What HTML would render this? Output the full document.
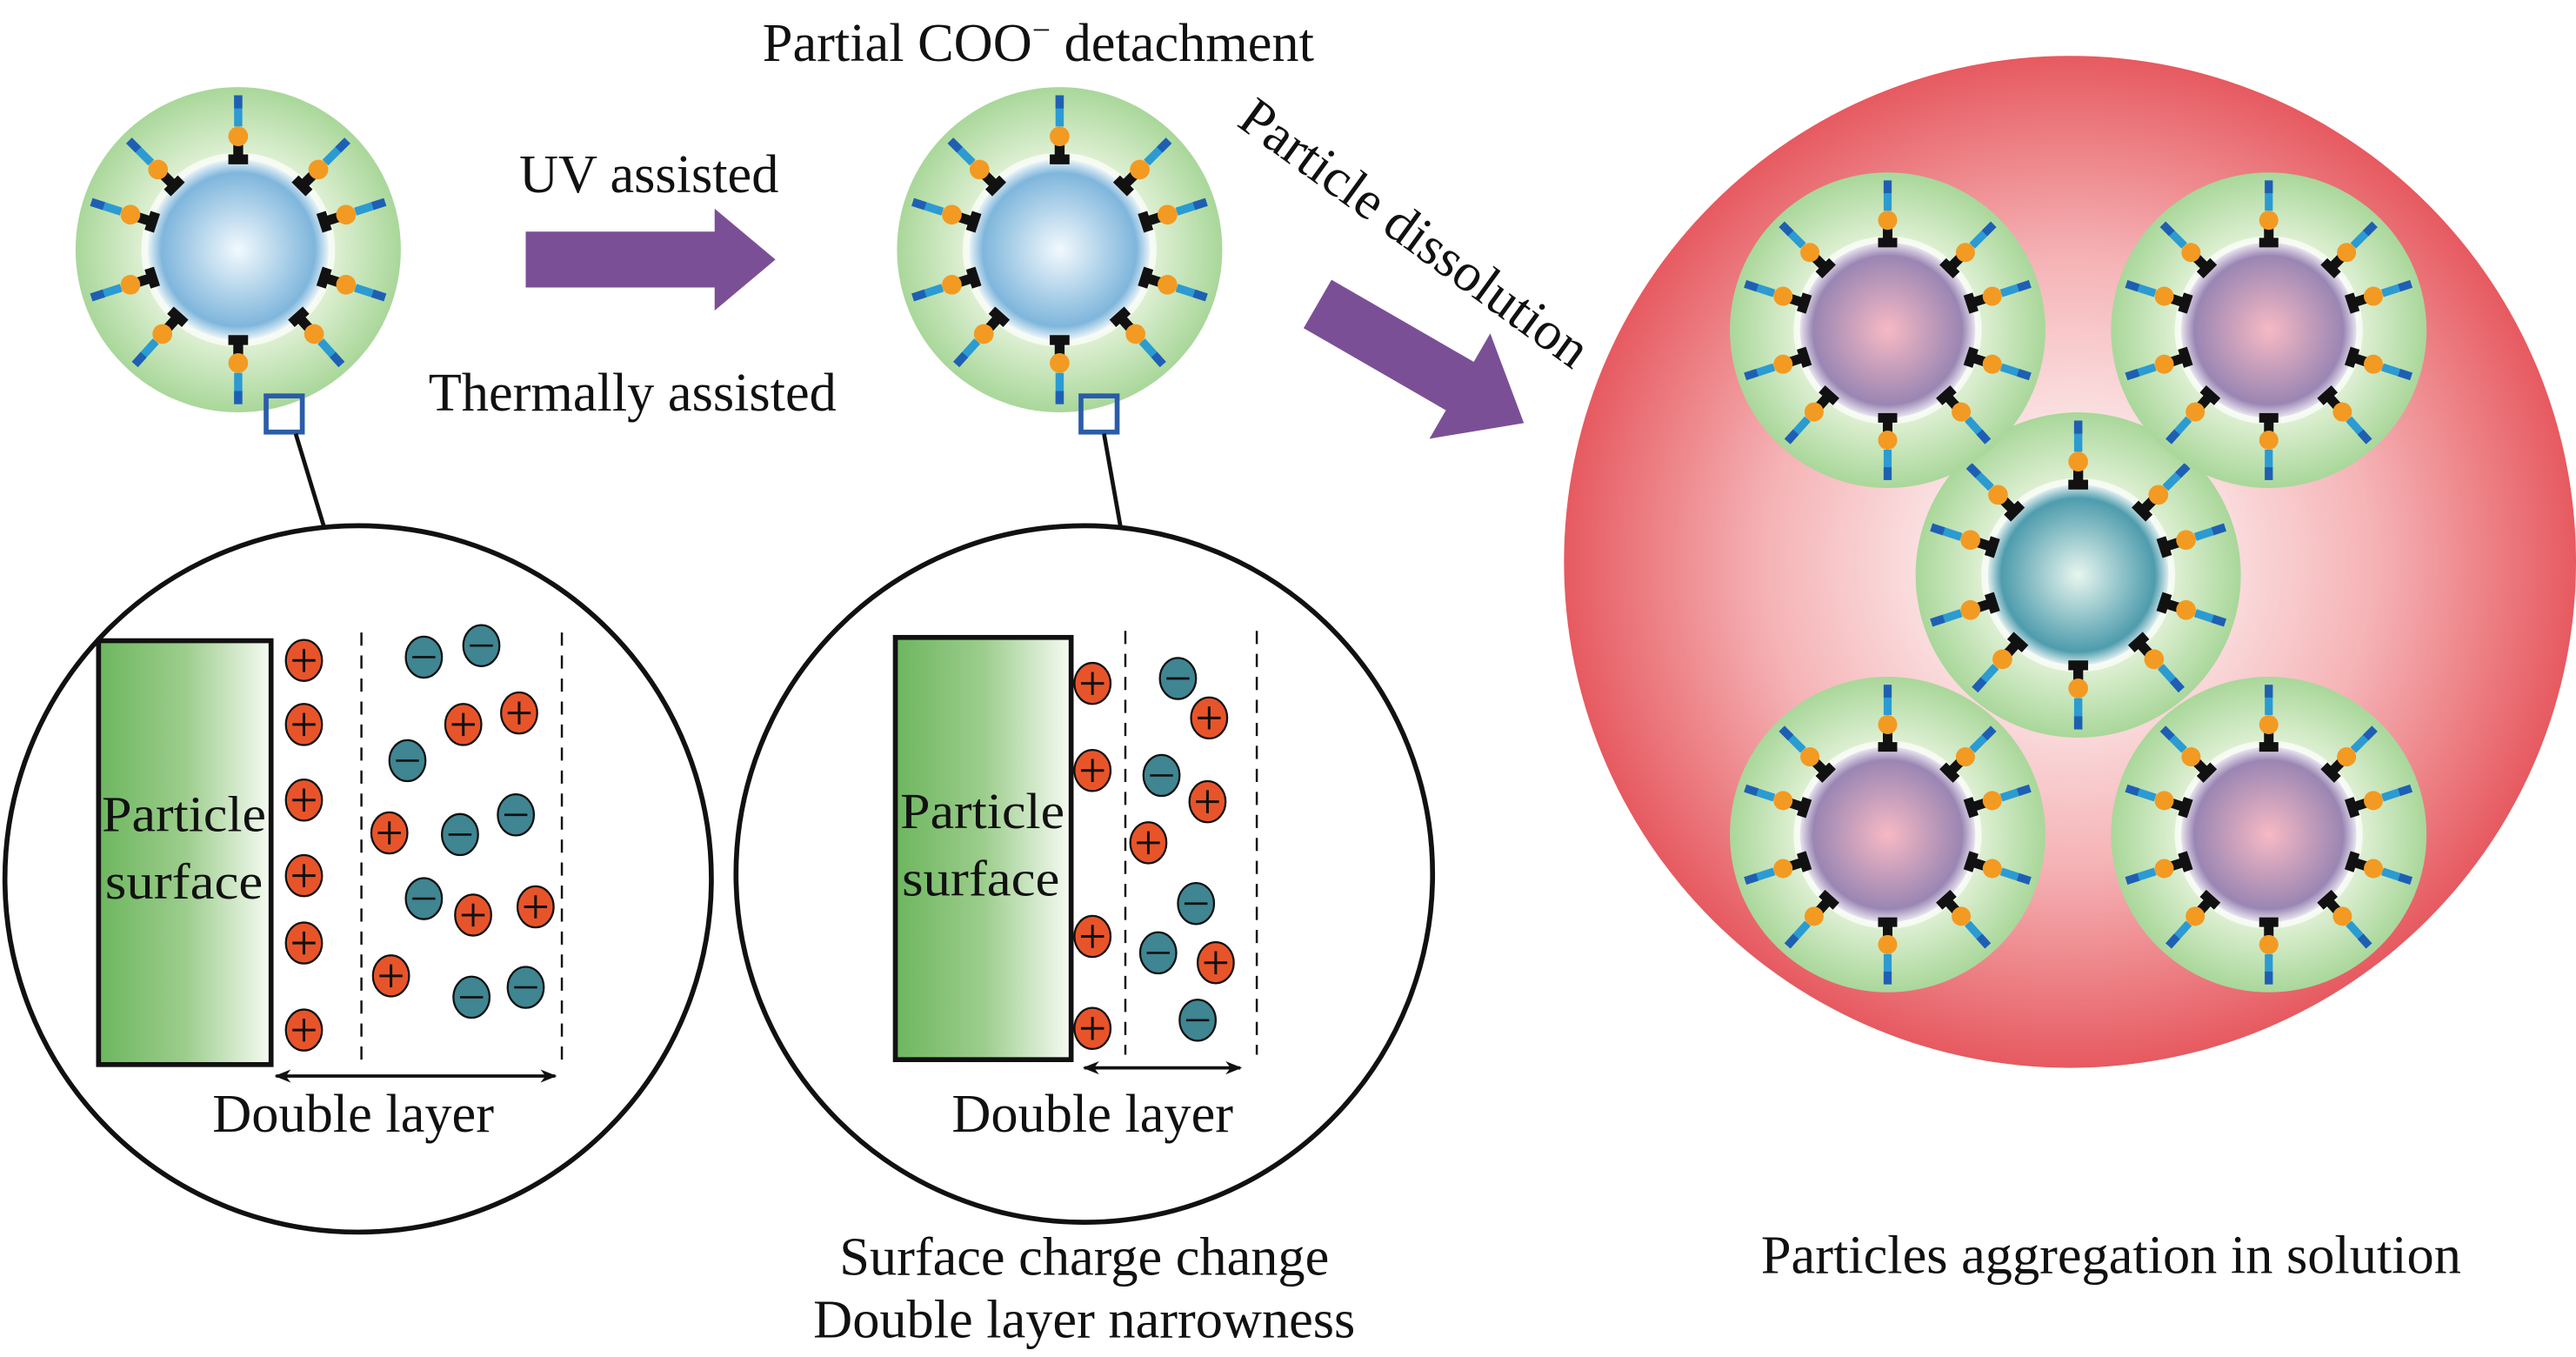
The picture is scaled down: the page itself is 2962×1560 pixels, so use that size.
<!DOCTYPE html>
<html><head><meta charset="utf-8"><style>
html,body{margin:0;padding:0;background:#fff;width:2962px;height:1560px;overflow:hidden}
svg{display:block}
text{font-family:"Liberation Serif",serif;fill:#111}
</style></head><body>
<svg width="2962" height="1560" viewBox="0 0 1568 826" preserveAspectRatio="none" xmlns="http://www.w3.org/2000/svg">
<defs>
<radialGradient id="gshell" cx="50%" cy="50%" r="50%">
<stop offset="0.55" stop-color="#e3f2d8"/><stop offset="1" stop-color="#a9d79a"/></radialGradient>
<radialGradient id="gblue" cx="50%" cy="50%" r="50%">
<stop offset="0" stop-color="#f2f9fd"/><stop offset="0.85" stop-color="#7fb6dc"/><stop offset="1" stop-color="#e9f3f8"/></radialGradient>
<radialGradient id="gpurp" cx="50%" cy="50%" r="50%">
<stop offset="0" stop-color="#f7b9c4"/><stop offset="0.85" stop-color="#9a86b3"/><stop offset="1" stop-color="#e7e2ef"/></radialGradient>
<radialGradient id="gteal" cx="50%" cy="50%" r="50%">
<stop offset="0" stop-color="#e8f6ee"/><stop offset="0.85" stop-color="#4e9cad"/><stop offset="1" stop-color="#dfeef0"/></radialGradient>
<radialGradient id="gred" cx="50%" cy="50%" r="50%">
<stop offset="0.15" stop-color="#fdf4f4"/><stop offset="0.6" stop-color="#f5b3b6"/><stop offset="1" stop-color="#e65a60"/></radialGradient>
<linearGradient id="gsurf" x1="0" x2="1" y1="0" y2="0">
<stop offset="0" stop-color="#6db65f"/><stop offset="0.5" stop-color="#9ccd8c"/><stop offset="1" stop-color="#f6fbf3"/></linearGradient>
<g id="lig">
<path d="M-6,-58 h12 v6 h-12z M-3,-64 h6 v8 h-6z" fill="#111"/>
<circle cx="0" cy="-69" r="6" fill="#f39a22"/>
<line x1="0" y1="-75" x2="0" y2="-94" stroke="#2b9bd2" stroke-width="5"/>
<line x1="0" y1="-86" x2="0" y2="-94" stroke="#1f5fb3" stroke-width="5"/>
</g>
<g id="ligs">
<use href="#lig"/><use href="#lig" transform="rotate(45)"/><use href="#lig" transform="rotate(72)"/><use href="#lig" transform="rotate(108)"/><use href="#lig" transform="rotate(138)"/>
<use href="#lig" transform="rotate(180)"/><use href="#lig" transform="rotate(-45)"/><use href="#lig" transform="rotate(-72)"/><use href="#lig" transform="rotate(-108)"/><use href="#lig" transform="rotate(-138)"/>
</g>
<g id="pb"><circle r="99" fill="url(#gshell)"/><circle r="59" fill="#fff" opacity="0.7"/><circle r="55" fill="url(#gblue)"/><use href="#ligs"/></g>
<g id="pp"><circle r="99" fill="url(#gshell)"/><circle r="59" fill="#fff" opacity="0.7"/><circle r="55" fill="url(#gpurp)"/><use href="#ligs"/></g>
<g id="pt"><circle r="99" fill="url(#gshell)"/><circle r="59" fill="#fff" opacity="0.7"/><circle r="55" fill="url(#gteal)"/><use href="#ligs"/></g>
<g id="ip"><ellipse rx="11" ry="12.5" fill="#e8542a" stroke="#111" stroke-width="1.2"/><path d="M-7,0h14M0,-7v14" stroke="#111" stroke-width="1.6"/></g>
<g id="im"><ellipse rx="11" ry="12.5" fill="#3f8592" stroke="#111" stroke-width="1.2"/><path d="M-7,0h14" stroke="#111" stroke-width="1.4"/></g>
<marker id="ah" markerWidth="10" markerHeight="8" refX="9" refY="4" orient="auto-start-reverse" markerUnits="userSpaceOnUse"><path d="M0,0 L10,4 L0,8 L3,4z" fill="#111"/></marker>
</defs>

<!-- aggregation (drawn first so text overlays) -->
<circle cx="1260" cy="342" r="308" fill="url(#gred)"/>
<use href="#pt" transform="translate(1265,350)"/>
<use href="#pp" transform="translate(1149,201) scale(0.97)"/>
<use href="#pp" transform="translate(1381,201) scale(0.97)"/>
<use href="#pp" transform="translate(1149,508) scale(0.97)"/>
<use href="#pp" transform="translate(1381,508) scale(0.97)"/>
<text x="1285" y="775" font-size="33" text-anchor="middle">Particles aggregation in solution</text>

<!-- top texts -->
<text x="632" y="37" font-size="33" text-anchor="middle">Partial COO<tspan font-size="20" dy="-12">−</tspan><tspan dy="12"> detachment</tspan></text>
<text x="395" y="117" font-size="33" text-anchor="middle">UV assisted</text>
<text x="385" y="250" font-size="33" text-anchor="middle">Thermally assisted</text>
<text font-size="33" transform="translate(752,76) rotate(36)">Particle dissolution</text>

<!-- purple arrows -->
<path d="M320,141 h115 v-14 l37,31 l-37,31 v-14 h-115z" fill="#7b4f96"/>
<path d="M0,-17 h100 v-20 l45,37 l-45,37 v-20 h-100z" fill="#7b4f96" transform="translate(802,185) rotate(30)"/>

<!-- particle 1 -->
<use href="#pb" transform="translate(145,152)"/>
<rect x="162" y="241" width="22" height="22" fill="none" stroke="#2a5ca8" stroke-width="3"/>
<line x1="180" y1="264" x2="197" y2="320" stroke="#111" stroke-width="2.5"/>
<circle cx="218" cy="535" r="215" fill="#fff" stroke="#111" stroke-width="3"/>
<rect x="60" y="390" width="105" height="258" fill="url(#gsurf)" stroke="#111" stroke-width="3"/>
<text x="112" y="506" font-size="31" text-anchor="middle" textLength="100" lengthAdjust="spacingAndGlyphs">Particle</text>
<text x="112" y="547" font-size="31" text-anchor="middle" textLength="96" lengthAdjust="spacingAndGlyphs">surface</text>
<line x1="220" y1="385" x2="220" y2="645" stroke="#111" stroke-width="1.3" stroke-dasharray="8,6"/>
<line x1="342" y1="385" x2="342" y2="645" stroke="#111" stroke-width="1.3" stroke-dasharray="8,6"/>
<use href="#ip" x="185" y="402"/><use href="#ip" x="185" y="441"/><use href="#ip" x="185" y="487"/><use href="#ip" x="185" y="533"/><use href="#ip" x="185" y="574"/><use href="#ip" x="185" y="627"/>
<use href="#im" x="258" y="400"/><use href="#im" x="293" y="393"/><use href="#ip" x="316" y="434"/><use href="#ip" x="282" y="441"/><use href="#im" x="248" y="463"/><use href="#ip" x="237" y="507"/><use href="#im" x="280" y="508"/><use href="#im" x="314" y="496"/><use href="#im" x="258" y="547"/><use href="#ip" x="288" y="557"/><use href="#ip" x="326" y="552"/><use href="#ip" x="238" y="594"/><use href="#im" x="287" y="607"/><use href="#im" x="320" y="601"/>
<line x1="168" y1="655" x2="338" y2="655" stroke="#111" stroke-width="2" marker-start="url(#ah)" marker-end="url(#ah)"/>
<text x="215" y="689" font-size="33" text-anchor="middle">Double layer</text>

<!-- particle 2 -->
<use href="#pb" transform="translate(645,152)"/>
<rect x="658" y="241" width="22" height="22" fill="none" stroke="#2a5ca8" stroke-width="3"/>
<line x1="672" y1="264" x2="683" y2="326" stroke="#111" stroke-width="2.5"/>
<circle cx="660" cy="532" r="212" fill="#fff" stroke="#111" stroke-width="3"/>
<rect x="545" y="388" width="107" height="257" fill="url(#gsurf)" stroke="#111" stroke-width="3"/>
<text x="598" y="504" font-size="31" text-anchor="middle" textLength="100" lengthAdjust="spacingAndGlyphs">Particle</text>
<text x="597" y="545" font-size="31" text-anchor="middle" textLength="96" lengthAdjust="spacingAndGlyphs">surface</text>
<line x1="685" y1="384" x2="685" y2="642" stroke="#111" stroke-width="1.3" stroke-dasharray="8,6"/>
<line x1="765" y1="384" x2="765" y2="642" stroke="#111" stroke-width="1.3" stroke-dasharray="8,6"/>
<use href="#ip" x="665" y="416"/><use href="#ip" x="665" y="469"/><use href="#ip" x="665" y="570"/><use href="#ip" x="665" y="626"/>
<use href="#im" x="717" y="413"/><use href="#ip" x="736" y="437"/><use href="#im" x="707" y="472"/><use href="#ip" x="735" y="488"/><use href="#ip" x="699" y="513"/><use href="#im" x="728" y="550"/><use href="#im" x="705" y="580"/><use href="#ip" x="740" y="586"/><use href="#im" x="729" y="621"/>
<line x1="660" y1="650" x2="755" y2="650" stroke="#111" stroke-width="2" marker-start="url(#ah)" marker-end="url(#ah)"/>
<text x="665" y="689" font-size="33" text-anchor="middle">Double layer</text>
<text x="660" y="776" font-size="33" text-anchor="middle">Surface charge change</text>
<text x="660" y="814" font-size="33" text-anchor="middle">Double layer narrowness</text>
</svg>
</body></html>
